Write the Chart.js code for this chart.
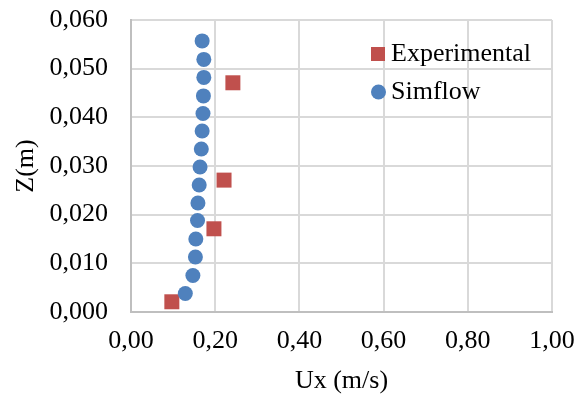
<!DOCTYPE html>
<html>
<head>
<meta charset="utf-8">
<script src="https://cdn.jsdelivr.net/npm/chart.js@4/dist/chart.umd.min.js"></script>
<style>
html,body{margin:0;padding:0;background:#fff;}
#wrap{width:585px;height:397px;position:relative;}
</style>
</head>
<body>
<div id="wrap"><canvas id="c" width="585" height="397"></canvas></div>
<script>
const seriesNames = ['Experimental', 'Simflow'];
const expX = [0.097, 0.197, 0.221, 0.242];
const expY = [0.0021, 0.0171, 0.0271, 0.0471];
const simX = [0.169, 0.173, 0.173, 0.172, 0.171, 0.169, 0.167, 0.164, 0.162, 0.159, 0.158, 0.154, 0.153, 0.147, 0.129];
const simY = [0.0557, 0.0519, 0.0482, 0.0444, 0.0408, 0.0372, 0.0335, 0.0298, 0.0261, 0.0224, 0.0188, 0.0150, 0.0113, 0.0075, 0.0038];
const xTickLabels = ['0,00', '0,20', '0,40', '0,60', '0,80', '1,00'];
const yTickLabels = ['0,000', '0,010', '0,020', '0,030', '0,040', '0,050', '0,060'];
const xTitle = 'Ux (m/s)';
const yTitle = 'Z(m)';

const RED = '#C0504D';
const BLUE = '#4F81BD';
const FONT = "'Liberation Serif', 'Times New Roman', serif";
const FS = 26;

const expPts = expX.map((x, i) => ({x: x, y: expY[i]}));
const simPts = simX.map((x, i) => ({x: x, y: simY[i]}));

const legendPlugin = {
  id: 'insideLegend',
  afterDraw(chart) {
    const ctx = chart.ctx;
    const items = [
      {label: seriesNames[0], color: RED, style: 'rect', y: 54},
      {label: seriesNames[1], color: BLUE, style: 'circle', y: 92}
    ];
    ctx.save();
    ctx.font = FS + 'px ' + FONT;
    ctx.textBaseline = 'middle';
    ctx.textAlign = 'left';
    items.forEach(it => {
      ctx.fillStyle = it.color;
      if (it.style === 'rect') {
        ctx.fillRect(371, it.y - 7, 14, 14);
      } else {
        ctx.beginPath();
        ctx.arc(378.5, it.y, 7.5, 0, Math.PI * 2);
        ctx.fill();
      }
      ctx.fillStyle = '#000';
      ctx.fillText(it.label, 391, it.y);
    });
    ctx.restore();
  }
};

new Chart(document.getElementById('c'), {
  type: 'scatter',
  data: {
    datasets: [
      {label: seriesNames[0], data: expPts, order: 1, pointStyle: 'rect', pointRadius: 10.6, pointHoverRadius: 10.6,
       backgroundColor: RED, borderColor: RED, borderWidth: 0},
      {label: seriesNames[1], data: simPts, order: 0, pointStyle: 'circle', pointRadius: 7.5, pointHoverRadius: 7.5,
       backgroundColor: BLUE, borderColor: BLUE, borderWidth: 0}
    ]
  },
  options: {
    responsive: false,
    animation: false,
    devicePixelRatio: 1,
    layout: {padding: {left: 0, top: 20, right: 33, bottom: 0}},
    plugins: {legend: {display: false}, tooltip: {enabled: false}},
    scales: {
      x: {
        type: 'linear', min: 0, max: 1,
        ticks: {stepSize: 0.2, color: '#000', font: {family: FONT, size: FS}, padding: 14,
          callback: (v, i) => xTickLabels[i]},
        grid: {color: '#D9D9D9', lineWidth: 2, drawTicks: false},
        border: {color: '#BFBFBF', width: 2},
        title: {display: true, text: xTitle, color: '#000', font: {family: FONT, size: FS}, padding: {top: 0, bottom: 0}},
        afterFit: s => { s.height = 85; s.paddingLeft = 0; s.paddingRight = 0; }
      },
      y: {
        type: 'linear', min: 0, max: 0.06,
        ticks: {stepSize: 0.01, color: '#000', font: {family: FONT, size: FS}, padding: 23,
          callback: (v, i) => yTickLabels[i]},
        grid: {color: '#D9D9D9', lineWidth: 2, drawTicks: false},
        border: {color: '#BFBFBF', width: 2},
        title: {display: true, text: yTitle, color: '#000', font: {family: FONT, size: FS}, padding: {top: 11, bottom: 0}},
        afterFit: s => { s.width = 131; s.paddingTop = 0; s.paddingBottom = 0; }
      }
    }
  },
  plugins: [legendPlugin]
});
</script>
</body>
</html>
